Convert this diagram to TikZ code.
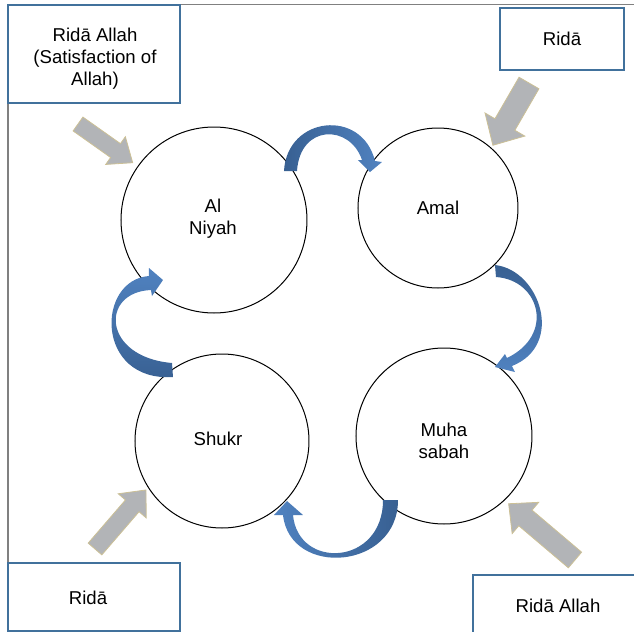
\documentclass[tikz,border=0pt]{standalone}
\usepackage{fontspec}
\setmainfont{Liberation Sans}
\usetikzlibrary{positioning,calc}

\definecolor{boxblue}{RGB}{65,113,156}
\definecolor{arrowdark}{RGB}{56,96,146}
\definecolor{arrowlight}{RGB}{80,130,192}
\definecolor{arrowgrey}{RGB}{178,180,183}
\definecolor{arrowrim}{RGB}{204,192,150}

% grey block arrow: tail point, angle, length, shaft width, head width, head length
\newcommand{\ridaarrow}[6]{%
  \begin{scope}[shift={(#1)}, rotate=#2]
    \draw[greyarrow] (0,{-#4/2}) -- ({#3-#6},{-#4/2}) -- ({#3-#6},{-#5/2}) -- (#3,0)
      -- ({#3-#6},{#5/2}) -- ({#3-#6},{#4/2}) -- (0,{#4/2}) -- cycle;
  \end{scope}}

\begin{document}
\begin{tikzpicture}[x=0.5pt, y=-0.5pt,
    font=\fontsize{9.3}{11}\selectfont,
    circ/.style={draw, circle, line width=0.5pt, inner sep=0pt},
    ridabox/.style={draw=boxblue, fill=white, line width=0.6pt, inner sep=0pt},
    txt/.style={align=center, inner sep=0pt}]
        \useasboundingbox (0,0) rectangle (634,632);
        \clip (0,0) rectangle (634,632);

        % Frame
        \draw[black!50, line width=0.9pt] (634,4.5) -- (8,4.5) -- (8,632);

        % Al Niyah
        \node [circ, minimum size=93pt] (niyah) at (214,220) {};
        \node [txt] at ($(niyah.center)+(-1,-1)$) {Al\\Niyah};
        % Amal
        \node [circ, minimum size=80pt] (amal) at (438,208) {};
        \node [txt] at (amal.center) {Amal};
        % Shukr
        \node [circ, minimum size=87pt] (shukr) at (222,441) {};
        \node [txt] at ($(shukr.center)+(-4,-2)$) {Shukr};
        % Muhasabah
        \node [circ, minimum size=88pt] (muhasabah) at (444,436) {};
        \node [txt] at ($(muhasabah.center)+(0,5)$) {Muha\\sabah};

        % Rida boxes
        \node [ridabox, minimum width=86pt, minimum height=49pt] (ridaallah) at (94,54) {};
        \node [txt] at ($(ridaallah.center)+(1,5)$) {Ridā Allah\\(Satisfaction of\\Allah)};
        \node [ridabox, minimum width=62pt, minimum height=31pt] (ridatop) at (562,39) {};
        \node [txt] at (ridatop.center) {Ridā};
        \node [ridabox, minimum width=86pt, minimum height=34pt] (ridaleft) at (94,597) {};
        \node [txt] at ($(ridaleft.center)+(-6,1)$) {Ridā};
        \node [ridabox, minimum width=85pt, minimum height=32pt] (ridaright) at (558,607) {};
        \node [txt] at ($(ridaright.center)+(0,-1)$) {Ridā Allah};

        % Grey arrows towards the circles
        \tikzset{greyarrow/.style={fill=arrowgrey, draw=arrowrim, line width=0.4pt}}
        \ridaarrow{78,124}{-35.3}{67}{17}{34}{21}
        \ridaarrow{529,83}{-120.1}{72}{23}{46}{24}
        \ridaarrow{95,549}{49.2}{78}{18}{37}{21}
        \ridaarrow{575,560}{139.7}{87}{20.5}{41}{22}

        % Curved arrows of the cycle
        \shade[left color=arrowdark, right color=arrowlight]
            (284,171) .. controls (287,116) and (362,108) .. (375,161) -- (382,162) -- (370,172)
            -- (358,160) -- (362,160) .. controls (350,124) and (300,124) .. (297,171) -- cycle;
        \shade[top color=arrowdark, bottom color=arrowlight]
            (495,265) .. controls (540,270) and (565,345) .. (512,366) -- (515,372) -- (495,367)
            -- (505,354) -- (507,358) .. controls (555,335) and (540,280) .. (496,277) -- cycle;
        \shade[left color=arrowlight, right color=arrowdark]
            (398,500) .. controls (398,570) and (290,578) .. (283,515) -- (274,515) -- (287,501)
            -- (303,515) -- (293,515) .. controls (298,570) and (383,566) .. (383,500) -- cycle;
        \shade[top color=arrowlight, bottom color=arrowdark]
            (173,377) .. controls (95,382) and (96,280) .. (149,276) -- (149,268) -- (163,280)
            -- (152,296) -- (151,290) .. controls (100,292) and (102,357) .. (172,363) -- cycle;
\end{tikzpicture}
\end{document}
